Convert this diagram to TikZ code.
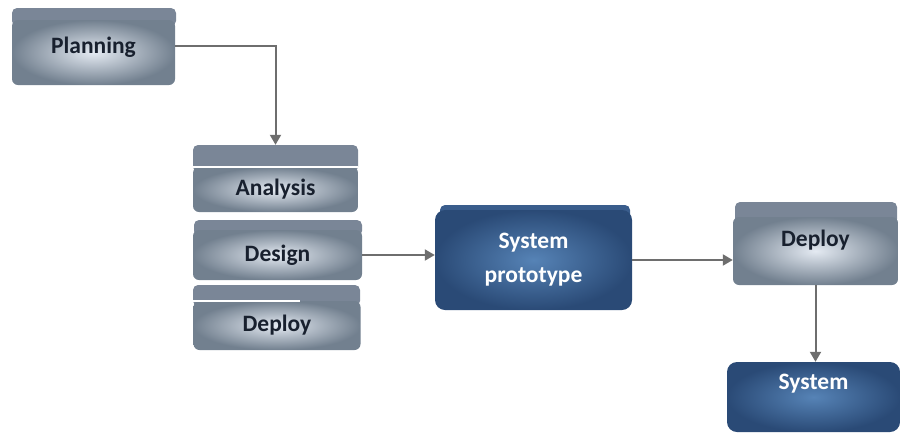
\documentclass[tikz,border=0pt]{standalone}
\usepackage{fontspec}
\setmainfont{Carlito}
\usetikzlibrary{arrows.meta}

\definecolor{boxlight}{HTML}{E4EAF2}
\definecolor{boxdark}{HTML}{72808F}
\definecolor{liddark}{HTML}{7A8697}
\definecolor{boxtext}{HTML}{18202E}
\definecolor{blulight}{HTML}{5683B6}
\definecolor{bludark}{HTML}{2A4A76}
\definecolor{blulid}{HTML}{3A5D8C}
\definecolor{linkgrey}{HTML}{6E6E6E}

\begin{document}
\begin{tikzpicture}[x=1pt, y=-1pt,
  box/.style={rounded corners=6pt, inner sep=0pt, align=center,
    font=\bfseries\fontsize{23.5}{34}\selectfont},
  greybox/.style={box, inner color=boxlight, outer color=boxdark, text=boxtext},
  bluebox/.style={box, inner color=blulight, outer color=bludark, text=white},
  lid/.style={fill=liddark, rounded corners=5pt},
  link/.style={draw=linkgrey, line width=2pt, arrows={-Triangle[width=11pt, length=10pt]}}]

\useasboundingbox (0,0) rectangle (901,437);

\fill[lid] (12,8) rectangle (176,26);
\fill[lid] (193,145) rectangle (358,172);
\fill[lid] (194,220) rectangle (362,236);
\fill[lid] (193,285) rectangle (360,306);
\fill[lid, fill=blulid] (440,205) rectangle (630,222);
\fill[lid] (735,202) rectangle (897,224);

\node[greybox, minimum width=163pt, minimum height=65pt, text depth=15pt] (plan) at (93.5,52.5) {Planning};
\node[greybox, minimum width=165pt, minimum height=45pt] (ana) at (275.5,189.5) {Analysis};
\node[greybox, minimum width=169pt, minimum height=50pt] (des) at (277.5,255) {Design};
\node[greybox, minimum width=167pt, minimum height=49pt] (dep) at (277,325.5) {Deploy};
\node[bluebox, minimum width=197pt, minimum height=100pt, rounded corners=10pt] (proto) at (533.5,260) {System\\prototype};
\node[greybox, minimum width=165pt, minimum height=68pt, text depth=25pt] (depl) at (815.5,251) {Deploy};
\node[bluebox, minimum width=173pt, minimum height=70pt, rounded corners=10pt, text depth=30pt] (sys) at (813.5,397) {System};

\draw[white, line width=1.5pt] (193,167) -- (358,167);
\draw[white, line width=1.5pt] (193,301) -- (300,301);

\draw[link] ([yshift=7pt]plan.east) -| ([yshift=22pt]ana.north);
\draw[link] (des.east) -- (proto.west |- des.east);
\draw[link] (proto.east) -- (depl.west |- proto.east);
\draw[link] (depl.south) -- (depl.south |- sys.north);
\end{tikzpicture}
\end{document}
